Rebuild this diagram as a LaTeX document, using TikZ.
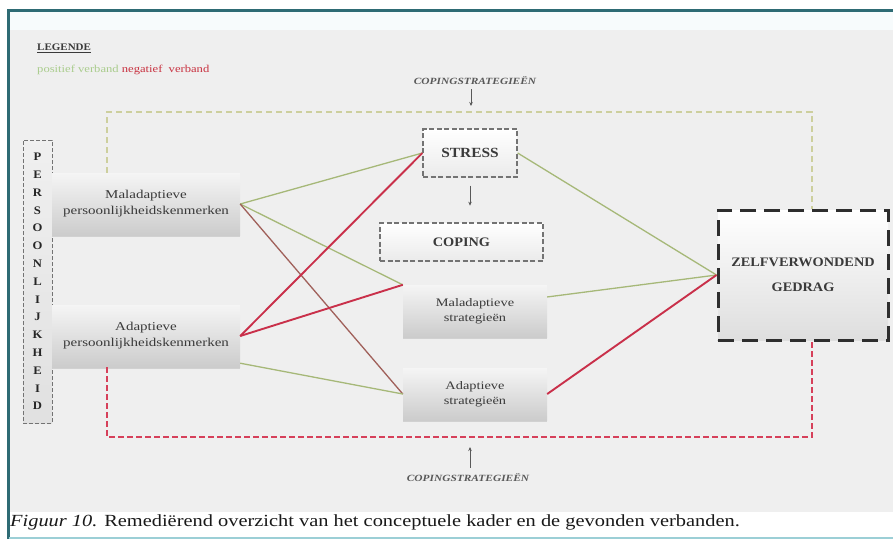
\documentclass[tikz,border=0pt]{standalone}
\usepackage{fontspec}
\setmainfont{Liberation Serif}
\newfontfamily\boxfont{Liberation Serif}[FakeStretch=1.25]
\newfontfamily\capsfont{Liberation Serif}[FakeStretch=1.1]
\newfontfamily\smallfont{Liberation Serif}[FakeStretch=1.2]
\newfontfamily\captionfont{Liberation Serif}[FakeStretch=1.2]
\usetikzlibrary{arrows.meta,shadows,calc}

\definecolor{frameteal}{HTML}{2E6B74}
\definecolor{frameteallight}{HTML}{9CCFD6}
\definecolor{topband}{HTML}{F7FBFC}
\definecolor{panelgray}{HTML}{EFEFEF}
\definecolor{posgreen}{HTML}{A6B878}
\definecolor{negred}{HTML}{C9304A}
\definecolor{negbrown}{HTML}{A0605A}
\definecolor{framegreen}{HTML}{CDCF9E}
\definecolor{framered}{HTML}{D6405A}
\definecolor{legendgreen}{HTML}{A9CC8C}
\definecolor{legendred}{HTML}{C8303F}
\definecolor{textgray}{HTML}{3A3A3A}

\tikzset{
  featurebox/.style={draw=none, inner sep=0pt, align=center, text=textgray,
    top color=white!96!black, bottom color=black!20,
    drop shadow={shadow xshift=0pt, shadow yshift=-2pt, opacity=0.3, fill=black!45},
    font={\boxfont\fontsize{12}{16}\selectfont}},
  dashbox/.style={draw=black!55, line width=1.3pt, dash pattern=on 5pt off 2.5pt,
    inner sep=0pt, align=center, text=textgray,
    top color=white, bottom color=black!8,
    font={\capsfont\bfseries\fontsize{13}{16}\selectfont}},
  persbox/.style={draw=black!55, line width=1pt, dash pattern=on 4pt off 2pt,
    inner sep=0pt, align=center, text=black!85,
    top color=black!6, bottom color=black!12,
    font={\capsfont\bfseries\fontsize{11.5}{17.8}\selectfont}},
  zelfbox/.style={draw=black!82, line width=3pt, dash pattern=on 16pt off 8pt,
    inner sep=0pt, align=center, text=textgray,
    top color=white, bottom color=black!13,
    font={\capsfont\bfseries\fontsize{13}{25}\selectfont}},
  smallcaps/.style={inner sep=0pt, text=black!65,
    font={\smallfont\bfseries\itshape\fontsize{9.5}{11}\selectfont}},
  smallarrow/.style={draw=black!65, line width=0.8pt, -{Stealth[length=4pt,width=3.5pt]}},
  posline/.style={draw=posgreen, line width=1.3pt},
  negline/.style={draw=negred, line width=1.9pt},
  brownline/.style={draw=negbrown, line width=1.3pt},
  greenframe/.style={draw=framegreen, line width=1.3pt, dash pattern=on 6pt off 4pt},
  redframe/.style={draw=framered, line width=1.3pt, dash pattern=on 6pt off 3pt},
}

\begin{document}
\begin{tikzpicture}[x=1pt, y=-1pt]
\useasboundingbox (0,0) rectangle (893,539);

% page, panel and frame
\fill[white] (0,0) rectangle (893,539);
\fill[topband] (8,12) rectangle (893,30);
\fill[panelgray] (8,30) rectangle (893,512);
\draw[frameteal, line width=3pt] (8,539) -- (8,10.5) -- (893,10.5);
\draw[frameteallight, line width=2pt] (9,538) -- (893,538);

% legend
\node[anchor=west, inner sep=0pt, text=textgray,
      font={\capsfont\bfseries\fontsize{10}{12}\selectfont}] (legend) at (37,48) {\underline{LEGENDE}};
\node[anchor=west, inner sep=0pt,
      font={\smallfont\fontsize{10.5}{12}\selectfont}] (legendkeys) at (37,70)
      {\textcolor{legendgreen}{positief verband} \textcolor{legendred}{negatief\ \ verband}};

% coping strategies, top and bottom
\node[smallcaps] (copetop) at (475,81) {COPINGSTRATEGIEËN};
\coordinate (copetopend) at (471,106);
\draw[smallarrow] (copetop.south -| copetopend) ++(0,4) -- (copetopend);

\node[smallcaps] (copebot) at (468,478) {COPINGSTRATEGIEËN};
\coordinate (copebotend) at (470,447);
\draw[smallarrow] (copebot.north -| copebotend) ++(0,-6) -- (copebotend);

% personality column
\node[persbox, minimum width=29pt, minimum height=283pt] (pers) at (37.5,281.5)
  {P\\E\\R\\S\\O\\O\\N\\L\\I\\J\\K\\H\\E\\I\\D};

% corners of the dashed coping frames
\coordinate (gtl) at (107,112);
\coordinate (gtr) at (812,112);
\coordinate (rbl) at (107,437);
\coordinate (rbr) at (812,437);

% boxes
\node[featurebox, minimum width=188pt, minimum height=62pt] (mpk) at (146,204)
  {Maladaptieve\\persoonlijkheidskenmerken};
\node[featurebox, minimum width=188pt, minimum height=62pt] (apk) at (146,336)
  {Adaptieve\\persoonlijkheidskenmerken};
\node[dashbox, minimum width=94pt, minimum height=48pt,
      font={\capsfont\bfseries\fontsize{14}{16}\selectfont}] (stress) at (470,153) {STRESS};
\node[dashbox, minimum width=163pt, minimum height=38pt] (coping) at (461.5,242) {COPING};
\node[featurebox, minimum width=144pt, minimum height=52pt,
      font={\boxfont\fontsize{11.5}{15}\selectfont}] (ms) at (475,311)
  {Maladaptieve\\strategieën};
\node[featurebox, minimum width=144pt, minimum height=52pt,
      font={\boxfont\fontsize{11.5}{15}\selectfont}] (as) at (475,394)
  {Adaptieve\\strategieën};
\node[zelfbox, minimum width=170pt, minimum height=130pt] (zelf) at (803,275)
  {ZELFVERWONDEND\\GEDRAG};

% dashed coping frames
\draw[greenframe] (gtl |- mpk.north) -- (gtl) -- (gtr) -- (gtr |- zelf.north);
\draw[redframe] (rbl |- apk.south) -- (rbl) -- (rbr) -- (rbr |- zelf.south);

% stress leads to coping
\draw[smallarrow] ([yshift=-8pt]stress.south) -- ([yshift=-28pt]stress.south);

% associations
\draw[posline] (mpk.east) -- (stress.west);
\draw[posline] (mpk.east) -- (ms.north west);
\draw[brownline] (mpk.east) -- (as.west);
\draw[negline] (apk.east) -- (stress.west);
\draw[negline] (apk.east) -- (ms.north west);
\draw[posline] ([yshift=4pt]apk.south east) -- (as.west);
\draw[posline] (stress.east) -- (zelf.west);
\draw[posline] (ms.11) -- (zelf.west);
\draw[negline] (as.east) -- (zelf.west);

% caption
\node[anchor=west, inner sep=0pt, text=black!90,
      font={\captionfont\fontsize{17}{20}\selectfont}] (caption) at (10,522)
  {\textit{Figuur 10.} Remediërend overzicht van het conceptuele kader en de gevonden verbanden.};
\end{tikzpicture}
\end{document}
